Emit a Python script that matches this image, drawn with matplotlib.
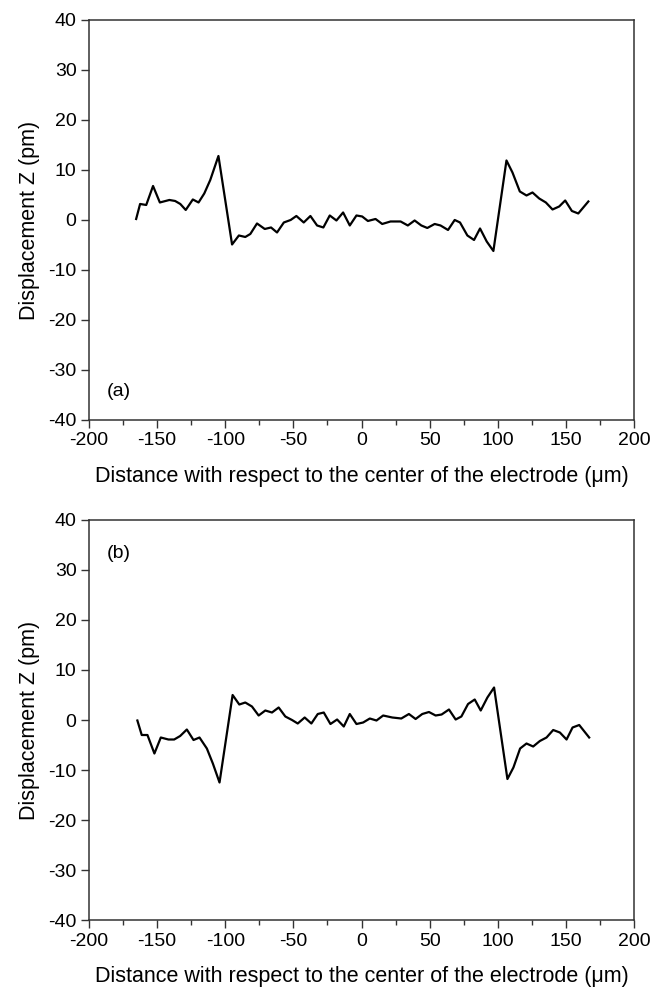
import matplotlib
matplotlib.use('Agg')
import matplotlib.pyplot as plt
from matplotlib.ticker import MultipleLocator

plt.rcParams['font.family'] = ['Liberation Sans', 'DejaVu Sans']
plt.rcParams['axes.unicode_minus'] = False

# panel (a)
x_a = [-165.4, -162.5, -158, -153, -148, -141, -136.8, -133, -129, -123.8, -119.6, -115.4, -111, -105,
       -95, -90, -85.3, -81.6, -76.7, -71, -66.4, -62, -57, -52, -47.8, -42.4, -37.5, -32.6, -28, -23.3,
       -18.4, -13.5, -8.6, -3.7, 0.5, 4.7, 10.3, 15.2, 21.3, 25, 28.7, 34, 39, 43.9, 48.3, 53.7, 58, 63.5,
       68.4, 72.3, 77.7, 82.6, 87, 91.9, 96.8, 106.4, 110.8, 116.2, 121.1, 125.5, 130.4, 135.3, 140.2,
       145.1, 149.5, 154.4, 159.1, 166.5]
z_a = [0.2, 3.2, 3, 6.8, 3.5, 4, 3.8, 3.2, 2, 4.1, 3.5, 5.3, 8, 12.8,
       -4.9, -3.1, -3.4, -2.8, -0.7, -1.8, -1.5, -2.5, -0.5, 0, 0.8, -0.5, 0.8, -1.1, -1.5, 0.9,
       -0.1, 1.5, -1.1, 0.9, 0.7, -0.2, 0.2, -0.8, -0.3, -0.3, -0.3, -1.1, -0.1, -1.1, -1.6, -0.8, -1.1, -2,
       0, -0.5, -3.1, -4, -1.7, -4.3, -6.2, 11.9, 9.5, 5.7, 4.9, 5.5, 4.3, 3.5, 2.1,
       2.7, 3.9, 1.8, 1.3, 3.7]

# panel (b)
x_b = [-164.5, -161.3, -157.1, -152, -147.3, -141.7, -137.5, -133.1, -128.2, -123.3, -118.9, -113.5, -109.1, -104.2,
       -94.6, -89.7, -85.3, -80.4, -75.5, -70.6, -65.7, -60.8, -55.9, -51, -46.8, -41.7, -36.8, -32.1, -27.7, -22.8,
       -17.9, -13, -8.6, -3.7, 1.2, 6.1, 11, 15.9, 22.6, 26, 29.2, 34.8, 39.7, 44.6, 49.5, 54.4, 58.8, 64.2,
       69.1, 73.3, 78.2, 83.1, 87.5, 92.4, 97.3, 107.1, 111.5, 116.4, 121.1, 126, 130.9, 135.8, 140.7,
       145.6, 150.5, 154.9, 159.8, 167.1]
z_b = [-0.1, -3, -3, -6.7, -3.5, -3.9, -3.9, -3.2, -1.9, -4, -3.5, -5.7, -8.7, -12.5,
       5, 3.1, 3.5, 2.7, 0.9, 1.9, 1.5, 2.5, 0.7, 0, -0.7, 0.5, -0.7, 1.2, 1.5, -0.8,
       0.1, -1.3, 1.2, -0.8, -0.5, 0.3, -0.1, 0.9, 0.5, 0.4, 0.3, 1.2, 0.2, 1.2, 1.6, 0.9, 1.1, 2.1,
       0.1, 0.7, 3.2, 4.1, 1.9, 4.5, 6.5, -11.8, -9.5, -5.7, -4.7, -5.3, -4.2, -3.5, -2,
       -2.5, -3.9, -1.5, -1, -3.5]

fig = plt.figure(figsize=(6.53, 9.88), dpi=100)
ax_a = fig.add_axes([0.1363, 0.5749, 0.8346, 0.4049])
ax_b = fig.add_axes([0.1363, 0.0688, 0.8346, 0.4049])

panels = [(ax_a, x_a, z_a, '(a)', 0.07), (ax_b, x_b, z_b, '(b)', 0.915)]
for ax, x, z, tag, ty in panels:
    ax.plot(x, z, color='black', lw=1.6)
    ax.set_xlim(-200, 200)
    ax.set_ylim(-40, 40)
    ax.xaxis.set_major_locator(MultipleLocator(50))
    ax.xaxis.set_minor_locator(MultipleLocator(25))
    ax.yaxis.set_major_locator(MultipleLocator(10))
    ax.tick_params(which='both', direction='out', top=False, right=False, labelsize=14, color='#333333')
    ax.tick_params(which='major', length=6, width=1, pad=3)
    ax.tick_params(which='minor', length=3.5, width=1)
    for s in ax.spines.values():
        s.set_linewidth(1.1)
        s.set_color('#333333')
    ax.set_xlabel('Distance with respect to the center of the electrode (\u03bcm)', fontsize=15.5, labelpad=12)
    ax.set_ylabel('Displacement Z (pm)', fontsize=15.5, labelpad=6)
    ax.text(0.033, ty, tag, transform=ax.transAxes, fontsize=14, va='center', ha='left')

fig.savefig('out.png', dpi=100)
